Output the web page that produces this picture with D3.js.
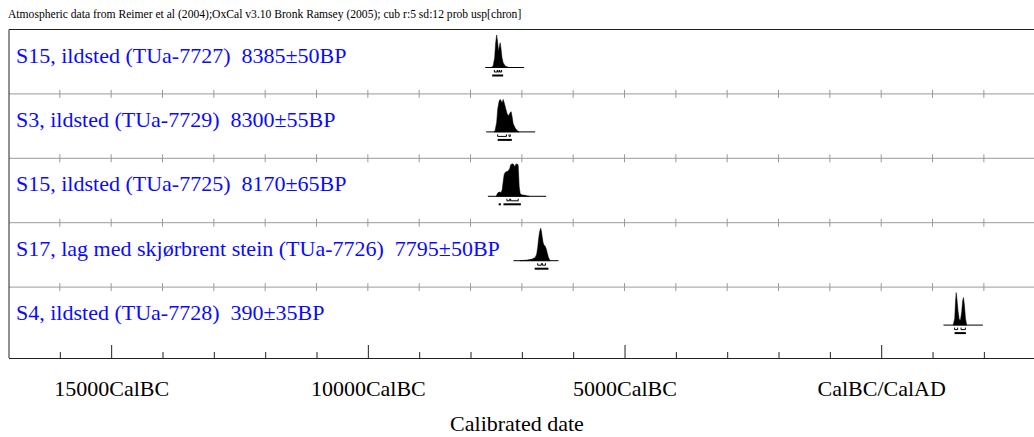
<!DOCTYPE html>
<html><head><meta charset="utf-8">
<script src="https://cdn.jsdelivr.net/npm/d3@7"></script>
<style>
body{margin:0;background:#fff}
svg{display:block}
svg text{font-family:'Liberation Serif','Tinos','Times New Roman','DejaVu Serif',serif !important;white-space:pre}
</style>
</head><body><svg id="c" width="1034" height="437"></svg>
<script>
const FONT = "'Liberation Serif','Tinos','Times New Roman','DejaVu Serif',serif";
const headerText = "Atmospheric data from Reimer et al (2004);OxCal v3.10 Bronk Ramsey (2005); cub r:5 sd:12 prob usp[chron]";
const sampleLabels = [
  "S15, ildsted (TUa-7727)  8385±50BP",
  "S3, ildsted (TUa-7729)  8300±55BP",
  "S15, ildsted (TUa-7725)  8170±65BP",
  "S17, lag med skjørbrent stein (TUa-7726)  7795±50BP",
  "S4, ildsted (TUa-7728)  390±35BP"
];
// calibrated probability distributions: [calendar year (negative = BC), relative probability]
const distTUa7727 = [[-7598,0],[-7559,0.05],[-7530,0.3],[-7511,0.75],[-7491,1.0],[-7472,0.8],[-7456,0.5],[-7438,0.65],[-7422,0.76],[-7407,0.6],[-7387,0.3],[-7364,0.15],[-7325,0.05],[-7286,0.02],[-7247,0]];
const distTUa7729 = [[-7540,0],[-7520,0.05],[-7490,0.3],[-7471,0.7],[-7442,0.95],[-7422,1.0],[-7403,0.95],[-7383,0.9],[-7364,1.0],[-7344,0.9],[-7315,0.72],[-7286,0.55],[-7257,0.5],[-7227,0.6],[-7208,0.62],[-7188,0.45],[-7169,0.25],[-7130,0.12],[-7091,0.04],[-7052,0]];
const distTUa7725 = [[-7500,0],[-7471,0.1],[-7442,0.13],[-7403,0.12],[-7383,0.2],[-7364,0.45],[-7344,0.68],[-7315,0.75],[-7286,0.76],[-7257,0.8],[-7237,0.85],[-7218,0.97],[-7188,1.0],[-7159,0.98],[-7140,0.9],[-7120,0.98],[-7091,1.0],[-7071,0.95],[-7052,0.3],[-7032,0.08],[-6993,0.04],[-6935,0.03],[-6896,0.01],[-6857,0]];
const distTUa7726 = [[-7033,0],[-6896,0.02],[-6799,0.05],[-6740,0.1],[-6711,0.2],[-6692,0.4],[-6672,0.7],[-6653,0.9],[-6633,1.0],[-6618,0.9],[-6604,0.74],[-6585,0.55],[-6565,0.47],[-6546,0.45],[-6526,0.37],[-6507,0.25],[-6482,0.1],[-6449,0]];
const distTUa7728 = [[1402,0],[1432,0.2],[1447,0.7],[1461,1.0],[1476,0.8],[1496,0.45],[1519,0.18],[1544,0.15],[1568,0.4],[1587,0.75],[1603,0.85],[1622,0.6],[1642,0.2],[1665,0]];
const distributions = [distTUa7727, distTUa7729, distTUa7725, distTUa7726, distTUa7728];
// 68.2% and 95.4% ranges
const ranges68 = [
  [[-7535,-7480],[-7470,-7440],[-7430,-7395]],
  [[-7471,-7300],[-7250,-7225]],
  [[-7291,-7237],[-7218,-7071]],
  [[-6692,-6620],[-6600,-6540]],
  [[1430,1490],[1555,1640]]
];
const ranges95 = [
  [[-7578,-7364]],
  [[-7471,-7195]],
  [[-7452,-7408],[-7358,-7019]],
  [[-6750,-6482]],
  [[1430,1650]]
];
const baseExtents = [[-7714,-6955],[-7695,-6740],[-7662,-6526],[-7163,-6286],[1213,1981]];
const majorTicks = [-15000,-10000,-5000,0];
const majorTickLabels = ["15000CalBC","10000CalBC","5000CalBC","CalBC/CalAD"];
const minorTicks = d3.range(-16000, 3001, 1000);
const axisTitle = "Calibrated date";

const svg = d3.select("#c").attr("font-family", FONT);
const x = d3.scaleLinear().domain([-17000, 3000]).range([8.5, 1035.2]);
const top0 = 29.5, rowH = 64.4, axisY = 358, baseOff = 38, peakH = 32.5;
const h = d3.scaleLinear().domain([0,1]).range([baseOff, baseOff - peakH]);

svg.append("text").attr("x", 8).attr("y", 18).attr("font-size", 11.6).attr("font-family", FONT).attr("fill", "#000").text(headerText);

// separators with crossing ticks
for (let i = 1; i < 5; i++) {
  const yy = top0 + i*rowH;
  svg.append("line").attr("x1", 9).attr("x2", 1034).attr("y1", yy).attr("y2", yy).attr("stroke", "#9a9a9a");
  svg.append("g").selectAll("line").data(minorTicks).join("line")
    .attr("x1", d => x(d)).attr("x2", d => x(d)).attr("y1", yy-4).attr("y2", yy+4).attr("stroke", "#9a9a9a");
}

const rows = svg.selectAll("g.row").data(distributions).join("g").attr("class","row")
  .attr("transform", (d,i) => `translate(0,${top0 + i*rowH})`);
rows.append("text").attr("x", 16).attr("y", 33).attr("font-size", 22).attr("font-family", FONT).attr("fill", "#0a0aff")
  .text((d,i) => sampleLabels[i]);
rows.append("line").attr("x1", (d,i) => x(baseExtents[i][0])).attr("x2", (d,i) => x(baseExtents[i][1]))
  .attr("y1", baseOff).attr("y2", baseOff).attr("stroke", "#000");
const area = d3.area().x(d => x(d[0])).y0(baseOff).y1(d => h(d[1]));
rows.append("path").attr("d", d => area(d)).attr("fill", "#000").attr("stroke", "#000").attr("stroke-width", 0.5);
rows.each(function(d,i){
  const g = d3.select(this);
  g.selectAll("path.r68").data(ranges68[i]).join("path").attr("class","r68")
    .attr("d", r => `M${x(r[0])},${baseOff+2.5}V${baseOff+4.5}H${x(r[1])}V${baseOff+2.5}`)
    .attr("fill","none").attr("stroke","#000").attr("stroke-width",1);
  g.selectAll("line.r95").data(ranges95[i]).join("line").attr("class","r95")
    .attr("x1", r => x(r[0])).attr("x2", r => x(r[1])).attr("y1", baseOff+8).attr("y2", baseOff+8)
    .attr("stroke","#000").attr("stroke-width",2);
});

// frame
svg.append("line").attr("x1", 9).attr("x2", 1034).attr("y1", top0).attr("y2", top0).attr("stroke", "#222");
svg.append("line").attr("x1", 9).attr("x2", 9).attr("y1", top0).attr("y2", axisY).attr("stroke", "#222");

// axis
const gMinor = svg.append("g").attr("transform", `translate(0,${axisY})`)
  .call(d3.axisTop(x).tickValues(minorTicks.filter(t => !majorTicks.includes(t))).tickSize(6).tickSizeOuter(0).tickFormat(""));
gMinor.select(".domain").attr("stroke", "#222");
gMinor.selectAll(".tick line").attr("stroke", "#222");
const gMajor = svg.append("g").attr("transform", `translate(0,${axisY})`)
  .call(d3.axisTop(x).tickValues(majorTicks).tickSize(13).tickSizeOuter(0).tickFormat(""));
gMajor.select(".domain").remove();
gMajor.selectAll(".tick line").attr("stroke", "#222");
const gLab = svg.append("g").attr("transform", `translate(0,${axisY})`).attr("font-family", FONT)
  .call(d3.axisBottom(x).tickValues(majorTicks).tickSize(0).tickPadding(22).tickFormat((d,i) => majorTickLabels[i]));
gLab.attr("font-family", FONT).attr("font-size", 22);
gLab.select(".domain").remove();
gLab.selectAll("text").attr("font-size", 22).attr("font-family", FONT).attr("fill", "#000");

svg.append("text").attr("x", 517).attr("y", 431).attr("text-anchor", "middle").attr("font-size", 22).attr("font-family", FONT).attr("fill","#000").text(axisTitle);
</script>
</body></html>
